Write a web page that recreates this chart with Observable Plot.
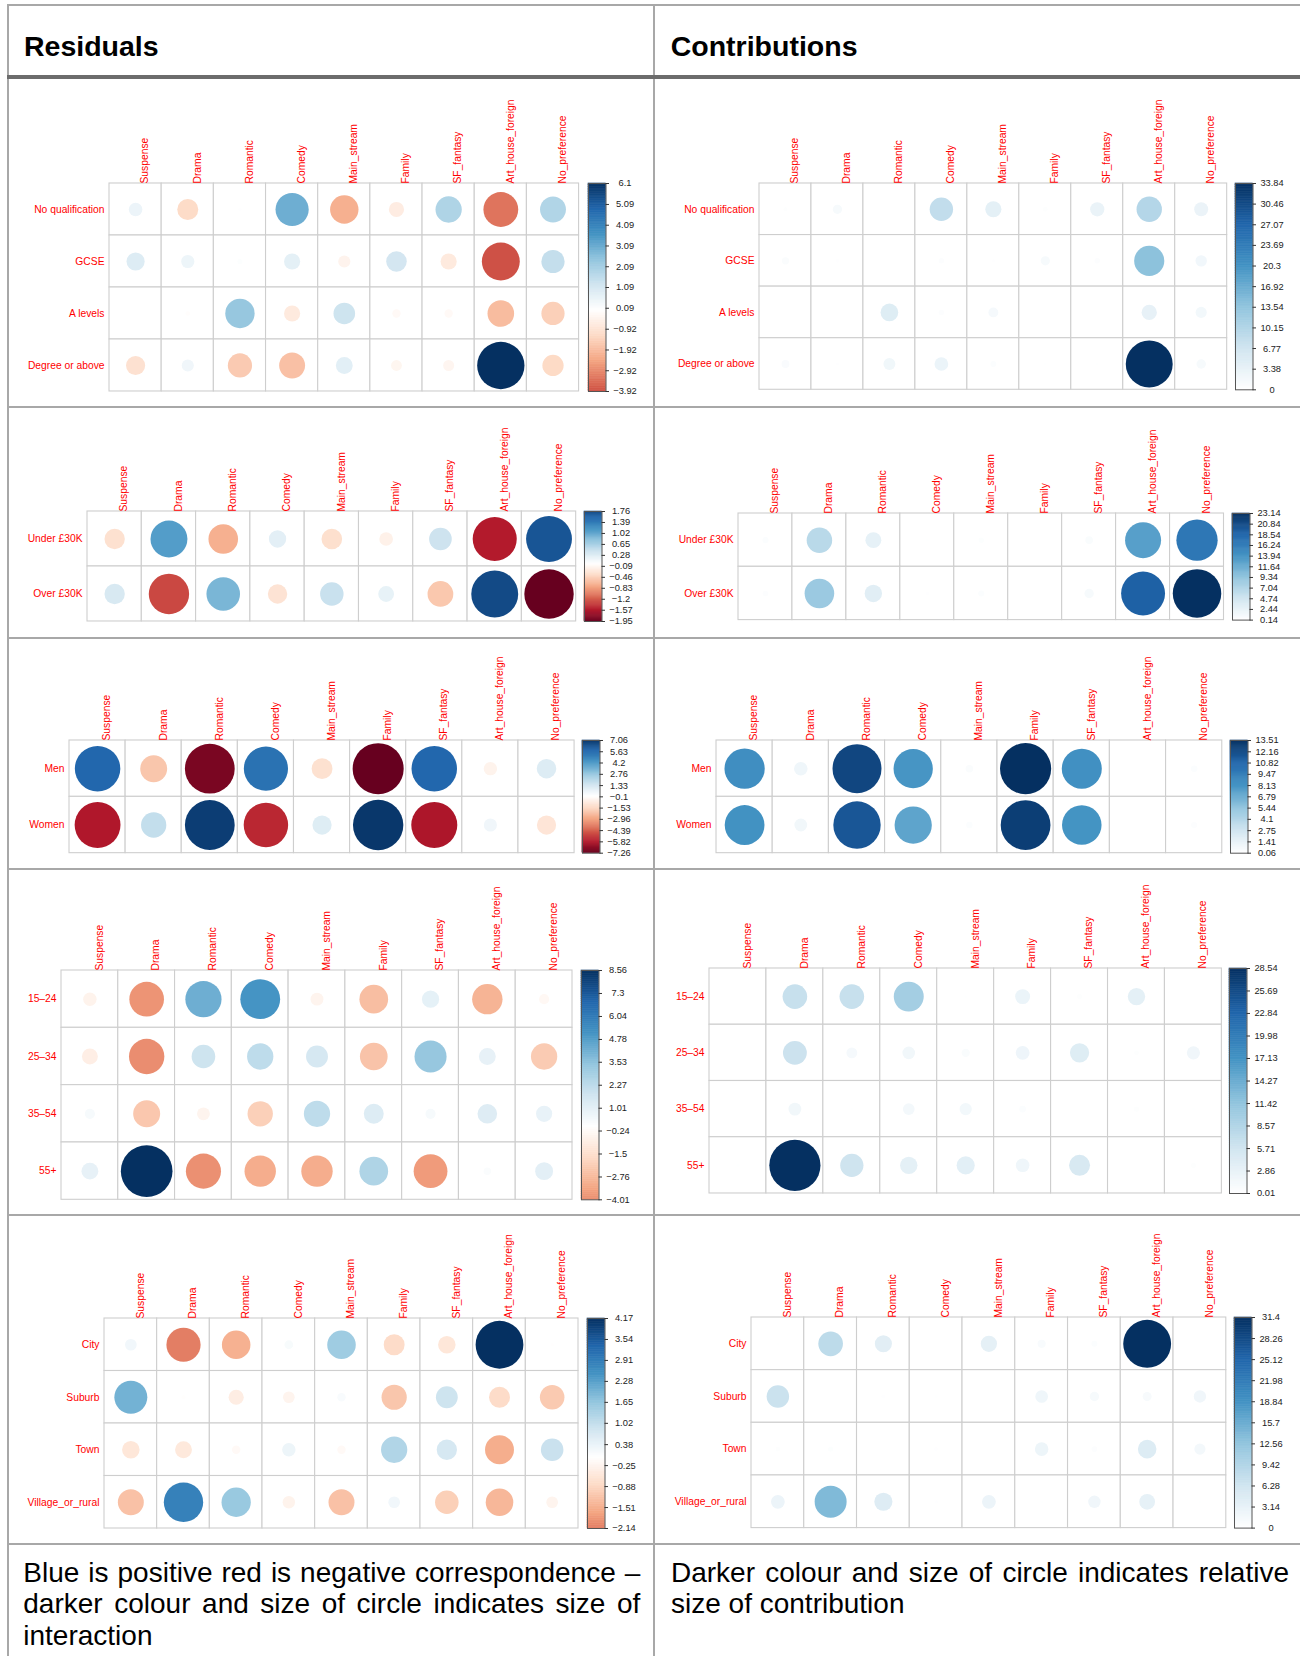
<!DOCTYPE html>
<html>
<head>
<meta charset="utf-8">
<script src="https://cdn.jsdelivr.net/npm/d3@7"></script>
<script src="https://cdn.jsdelivr.net/npm/@observablehq/plot@0.6"></script>
<style>
  body { margin: 0; background: #fff; }
  #page { position: relative; width: 1300px; height: 1656px; overflow: hidden; font-family: "Liberation Sans", Arial, sans-serif; background: #fff; }
  .line { position: absolute; background: #a8a8a8; z-index: 5; }
  .head { position: absolute; font-weight: bold; font-size: 28.5px; line-height: 28.5px; color: #000; white-space: nowrap; }
  .note { position: absolute; font-size: 28px; line-height: 31.5px; text-align: justify; color: #000; }
</style>
</head>
<body>
<div id="page">
  <div class="head" style="left:24px; top:32.3px;">Residuals</div>
  <div class="head" style="left:670.7px; top:32.3px;">Contributions</div>

  <div class="note" style="left:23.3px; top:1556.5px; width:617px;">Blue is positive red is negative correspondence – darker colour and size of circle indicates size of interaction</div>
  <div class="note" style="left:671px; top:1556.5px; width:618px;">Darker colour and size of circle indicates relative size of contribution</div>

  <!-- table rules -->
  <div class="line" style="left:6.5px; top:4px; width:1293.5px; height:2px;"></div>
  <div class="line" style="left:6.5px; top:4px; width:2px; height:1652px;"></div>
  <div class="line" style="left:653px; top:4px; width:2px; height:1652px;"></div>
  <div class="line" style="left:6.5px; top:75px; width:1293.5px; height:3.5px; background:#6c6c6c;"></div>
  <div class="line" style="left:6.5px; top:406px; width:1293.5px; height:2px;"></div>
  <div class="line" style="left:6.5px; top:637px; width:1293.5px; height:2px;"></div>
  <div class="line" style="left:6.5px; top:868px; width:1293.5px; height:2px;"></div>
  <div class="line" style="left:6.5px; top:1213.5px; width:1293.5px; height:2px;"></div>
  <div class="line" style="left:6.5px; top:1543px; width:1293.5px; height:2px;"></div>
</div>
<script>
// Film genre preferences: columns shared by every panel
const genres = ["Suspense", "Drama", "Romantic", "Comedy", "Main_stream", "Family", "SF_fantasy", "Art_house_foreign", "No_preference"];

// Education
const educationRows = ["No qualification", "GCSE", "A levels", "Degree or above"];
const educationResiduals = [
  [0.5, -1.2, 0.03, 3.0, -2.2, -0.63, 1.88, -3.3, 1.83],
  [0.9, 0.47, 0.07, 0.71, -0.4, 1.15, -0.71, -3.92, 1.47],
  [0.01, -0.06, 2.35, -0.71, 1.27, -0.19, -0.19, -1.93, -1.47],
  [-1.0, 0.4, -1.6, -1.83, 0.77, -0.32, -0.33, 6.1, -1.23]
];
const educationResidualTicks = [6.1, 5.09, 4.09, 3.09, 2.09, 1.09, 0.09, -0.92, -1.92, -2.92, -3.92];
const educationContributions = [
  [0.23, 1.31, 0, 8.4, 4.0, 0.36, 3.1, 9.9, 3.0],
  [0.8, 0.2, 0, 0.46, 0.15, 1.3, 0.46, 13.97, 2.0],
  [0, 0, 4.8, 0.46, 1.5, 0.03, 0.03, 3.6, 1.9],
  [0.95, 0.15, 2.2, 2.9, 0.54, 0.09, 0.1, 33.84, 1.38]
];
const educationContributionTicks = [33.84, 30.46, 27.07, 23.69, 20.3, 16.92, 13.54, 10.15, 6.77, 3.38, 0];

// Income
const incomeRows = ["Under £30K", "Over £30K"];
const incomeResiduals = [
  [-0.33, 1.09, -0.70, 0.24, -0.34, -0.15, 0.41, -1.55, 1.68],
  [0.33, -1.30, 0.90, -0.30, 0.44, 0.20, -0.53, 1.76, -1.95]
];
const incomeResidualTicks = [1.76, 1.39, 1.02, 0.65, 0.28, -0.09, -0.46, -0.83, -1.2, -1.57, -1.95];
const incomeContributions = [
  [0.5, 6.5, 2.6, 0.2, 0.4, 0.14, 0.7, 12.8, 16.8],
  [0.45, 8.7, 3.1, 0.25, 0.5, 0.15, 1.0, 19.0, 23.14]
];
const incomeContributionTicks = [23.14, 20.84, 18.54, 16.24, 13.94, 11.64, 9.34, 7.04, 4.74, 2.44, 0.14];

// Gender
const genderRows = ["Men", "Women"];
const genderResiduals = [
  [5.76, -2.02, -6.9, 5.43, -1.21, -7.26, 5.76, -0.5, 1.06],
  [-5.85, 1.78, 6.9, -5.5, 1.03, 7.06, -5.9, 0.48, -1.03]
];
const genderResidualTicks = [7.06, 5.63, 4.2, 2.76, 1.33, -0.1, -1.53, -2.96, -4.39, -5.82, -7.26];
const genderContributions = [
  [8.4, 1.0, 12.4, 8.0, 0.35, 13.51, 8.3, 0.08, 0.28],
  [8.2, 0.9, 11.6, 7.2, 0.27, 12.8, 8.1, 0.06, 0.25]
];
const genderContributionTicks = [13.51, 12.16, 10.82, 9.47, 8.13, 6.79, 5.44, 4.1, 2.75, 1.41, 0.06];

// Age
const ageRows = ["15–24", "25–34", "35–54", "55+"];
const ageResiduals = [
  [-0.58, -3.85, 4.2, 5.09, -0.53, -2.64, 0.95, -2.96, -0.33],
  [-0.81, -4.01, 1.79, 2.22, 1.54, -2.46, 3.3, 0.91, -2.22],
  [0.33, -2.34, -0.53, -2.06, 2.22, 1.27, 0.33, 1.23, 0.84],
  [0.91, 8.56, -3.95, -3.16, -3.16, 2.64, -3.66, 0.18, 1.03]
];
const ageResidualTicks = [8.56, 7.3, 6.04, 4.78, 3.53, 2.27, 1.01, -0.24, -1.5, -2.76, -4.01];
const ageContributions = [
  [0.02, 6.6, 6.6, 9.8, 0.1, 2.45, 0.3, 3.3, 0.05],
  [0.03, 6.2, 1.3, 1.75, 0.75, 2.1, 4.05, 0.25, 1.9],
  [0.02, 1.8, 0.1, 1.5, 1.65, 0.5, 0.03, 0.3, 0.1],
  [0.1, 28.54, 5.9, 3.3, 3.6, 2.0, 4.8, 0.01, 0.3]
];
const ageContributionTicks = [28.54, 25.69, 22.84, 19.98, 17.13, 14.27, 11.42, 8.57, 5.71, 2.86, 0.01];

// Area of residence
const areaRows = ["City", "Suburb", "Town", "Village_or_rural"];
const areaResiduals = [
  [0.25, -2.14, -1.49, 0.14, 1.49, -0.8, -0.56, 4.17, -0.02],
  [1.99, -0.03, -0.42, -0.25, 0.13, -1.16, 0.87, -0.8, -1.1],
  [-0.56, -0.52, -0.13, 0.33, -0.13, 1.26, 0.75, -1.53, 0.93],
  [-1.23, 2.83, 1.57, -0.28, -1.23, 0.25, -1.01, -1.39, -0.25]
];
const areaResidualTicks = [4.17, 3.54, 2.91, 2.28, 1.65, 1.02, 0.38, -0.25, -0.88, -1.51, -2.14];
const areaContributions = [
  [0.11, 8.3, 4.0, 0.04, 3.6, 0.9, 0.5, 31.4, 0],
  [6.9, 0, 0.2, 0.1, 0.03, 2.2, 1.2, 1.1, 2.1],
  [0.3, 0.35, 0.03, 0.2, 0.03, 2.5, 0.45, 4.7, 1.7],
  [2.6, 14.0, 4.5, 0.14, 2.6, 0.1, 2.1, 3.4, 0.1]
];
const areaContributionTicks = [31.4, 28.26, 25.12, 21.98, 18.84, 15.7, 12.56, 9.42, 6.28, 3.14, 0];

// Diverging red–blue ramp used for every panel
const palette = ["#67001F", "#B2182B", "#D6604D", "#F4A582", "#FDDBC7", "#FFFFFF", "#D1E5F0", "#92C5DE", "#4393C3", "#2166AC", "#053061"];

// Grid placement of each panel on the page: [left, right, top, bottom] of the cell grid
const layout = [
  {rows: educationRows, res: educationResiduals, resTicks: educationResidualTicks, con: educationContributions, conTicks: educationContributionTicks,
   resBox: [109.4, 579, 183.3, 391.3], conBox: [758.6, 1226.3, 182.7, 389]},
  {rows: incomeRows, res: incomeResiduals, resTicks: incomeResidualTicks, con: incomeContributions, conTicks: incomeContributionTicks,
   resBox: [87.1, 575.8, 511, 621], conBox: [738.3, 1223.8, 512.7, 619.3]},
  {rows: genderRows, res: genderResiduals, resTicks: genderResidualTicks, con: genderContributions, conTicks: genderContributionTicks,
   resBox: [68.6, 573.7, 740, 852.7], conBox: [715.5, 1221.3, 740, 852.7]},
  {rows: ageRows, res: ageResiduals, resTicks: ageResidualTicks, con: ageContributions, conTicks: ageContributionTicks,
   resBox: [61.4, 572.4, 970, 1199.3], conBox: [708.5, 1220.9, 968.3, 1193.3]},
  {rows: areaRows, res: areaResiduals, resTicks: areaResidualTicks, con: areaContributions, conTicks: areaContributionTicks,
   resBox: [104, 578, 1318.3, 1528.3], conBox: [750.7, 1225.5, 1316.7, 1527.3]}
];

const page = document.getElementById("page");
const svgStyle = {fontFamily: "'Liberation Sans', Arial, sans-serif", background: "transparent", overflow: "visible", maxWidth: "none"};
const fmt = d => (d < 0 ? "\u2212" : "") + Math.abs(d);

// Residuals use the whole ramp symmetric around zero; contributions use its blue half from min to max
function colorScale(kind, lo, hi) {
  if (kind === "residual") {
    const m = Math.max(Math.abs(lo), Math.abs(hi));
    return {type: "linear", domain: palette.map((_, i) => -m + (2 * m * i) / 10), range: palette, interpolate: "rgb"};
  }
  const upper = palette.slice(5);
  return {type: "linear", domain: upper.map((_, i) => lo + ((hi - lo) * i) / 5), range: upper, interpolate: "rgb"};
}

function place(svg, left, top) {
  svg.style.position = "absolute";
  svg.style.left = left + "px";
  svg.style.top = top + "px";
  page.appendChild(svg);
}

function corrplot(rows, matrix, ticks, kind, box) {
  const [gx0, gx1, gy0, gy1] = box;
  const hi = ticks[0], lo = ticks[ticks.length - 1];
  const W = (gx1 - gx0) / genres.length, H = (gy1 - gy0) / rows.length;
  const cells = rows.flatMap((row, i) => genres.map((genre, j) => ({row, genre, value: matrix[i][j]})));
  const mL = 112, mT = 108;
  const rMax = 0.455 * Math.min(W, H);
  const size = kind === "residual" ? (d => Math.abs(d.value)) : (d => d.value - lo);
  const rDomain = kind === "residual" ? [0, Math.max(-lo, hi)] : [0, hi - lo];

  const svg = Plot.plot({
    width: gx1 - gx0 + mL + 2,
    height: gy1 - gy0 + mT + 2,
    marginLeft: mL, marginTop: mT, marginRight: 2, marginBottom: 2,
    x: {domain: genres, padding: 0, round: false, axis: null},
    y: {domain: rows, padding: 0, round: false, axis: null},
    color: colorScale(kind, lo, hi),
    r: {type: "sqrt", domain: rDomain, range: [0, rMax]},
    style: svgStyle,
    marks: [
      Plot.cell(cells, {x: "genre", y: "row", fill: "white", stroke: "#cecece", strokeWidth: 1.1, inset: 0}),
      Plot.dot(cells, {x: "genre", y: "row", r: size, fill: "value"}),
      Plot.text(genres, {x: d => d, text: d => d, frameAnchor: "top", rotate: -90, textAnchor: "start", dx: 5.5, fill: "red", fontSize: 10.3}),
      Plot.text(rows, {y: d => d, text: d => d, frameAnchor: "left", textAnchor: "end", dx: -5, fill: "red", fontSize: 10.3})
    ]
  });
  place(svg, gx0 - mL, gy0 - mT);
}

function colorbar(ticks, kind, box) {
  const [, gx1, gy0, gy1] = box;
  const hi = ticks[0], lo = ticks[ticks.length - 1];
  const bw = 17.5, pad = 10, right = 48;
  // colour ramp drawn as thin slices between the bar's end values
  const slices = d3.range(120).map(i => ({y1: lo + ((hi - lo) * i) / 120, y2: lo + ((hi - lo) * (i + 1)) / 120}));
  const mid = d => (d.y1 + d.y2) / 2;

  const svg = Plot.plot({
    width: bw + 2 + right,
    height: gy1 - gy0 + 2 * pad,
    marginLeft: 2, marginRight: right, marginTop: pad, marginBottom: pad,
    x: {domain: [0, 1], axis: null},
    y: {domain: [lo, hi], axis: null},
    color: colorScale(kind, lo, hi),
    style: svgStyle,
    marks: [
      Plot.rect(slices, {x1: 0, x2: 1, y1: "y1", y2: "y2", fill: mid, stroke: mid, strokeWidth: 0.6}),
      Plot.frame({stroke: "#555", strokeWidth: 1}),
      Plot.ruleY(ticks, {y: d => d, x1: 1, x2: 1 + 3.5 / bw, stroke: "#333", strokeWidth: 1}),
      Plot.text(ticks, {y: d => d, x: 1, dx: 19, text: fmt, fontSize: 9.3, fill: "#222"})
    ]
  });
  place(svg, gx1 + 8.5 - 2, gy0 - pad);
}

for (const p of layout) {
  corrplot(p.rows, p.res, p.resTicks, "residual", p.resBox);
  colorbar(p.resTicks, "residual", p.resBox);
  corrplot(p.rows, p.con, p.conTicks, "contribution", p.conBox);
  colorbar(p.conTicks, "contribution", p.conBox);
}
</script>
</body>
</html>
